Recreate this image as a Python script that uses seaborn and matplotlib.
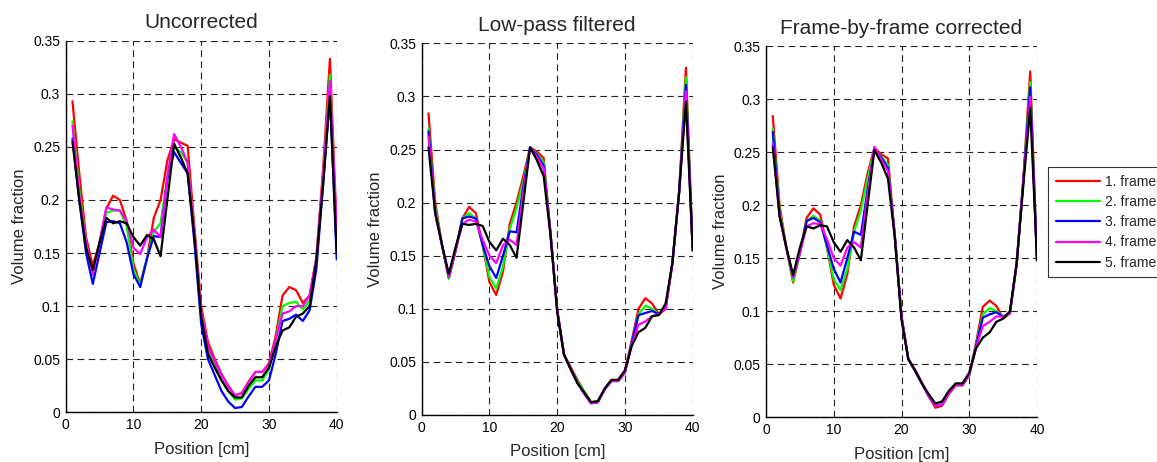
import numpy as np
import pandas as pd
import matplotlib
matplotlib.use("Agg")
import matplotlib.pyplot as plt
from matplotlib.ticker import FuncFormatter
import seaborn as sns

position = list(range(1, 41))
frames = ["1. frame", "2. frame", "3. frame", "4. frame", "5. frame"]
colors = ["#ff0000", "#00ff00", "#0000ff", "#ff00ff", "#000000"]
titles = ["Uncorrected", "Low-pass filtered", "Frame-by-frame corrected"]

# Uncorrected
unc_f1 = [0.293, 0.225, 0.165, 0.138, 0.160, 0.192, 0.204, 0.200, 0.180, 0.140,
          0.121, 0.145, 0.183, 0.200, 0.237, 0.257, 0.254, 0.251, 0.174, 0.100,
          0.066, 0.050, 0.036, 0.025, 0.016, 0.018, 0.029, 0.038, 0.038, 0.046,
          0.072, 0.110, 0.118, 0.115, 0.103, 0.110, 0.146, 0.230, 0.333, 0.171]
unc_f2 = [0.274, 0.210, 0.160, 0.129, 0.160, 0.188, 0.190, 0.190, 0.175, 0.135,
          0.120, 0.145, 0.170, 0.178, 0.222, 0.250, 0.245, 0.235, 0.168, 0.095,
          0.060, 0.045, 0.030, 0.020, 0.012, 0.013, 0.022, 0.030, 0.030, 0.040,
          0.068, 0.100, 0.103, 0.104, 0.097, 0.105, 0.143, 0.222, 0.318, 0.160]
unc_f3 = [0.258, 0.200, 0.150, 0.121, 0.150, 0.179, 0.180, 0.178, 0.160, 0.130,
          0.118, 0.145, 0.166, 0.165, 0.220, 0.245, 0.235, 0.225, 0.160, 0.083,
          0.050, 0.035, 0.020, 0.010, 0.004, 0.005, 0.015, 0.024, 0.024, 0.030,
          0.055, 0.086, 0.088, 0.092, 0.086, 0.096, 0.135, 0.215, 0.300, 0.144]
unc_f4 = [0.270, 0.205, 0.160, 0.130, 0.160, 0.193, 0.191, 0.190, 0.180, 0.155,
          0.149, 0.165, 0.172, 0.165, 0.222, 0.262, 0.250, 0.235, 0.168, 0.095,
          0.062, 0.048, 0.035, 0.024, 0.016, 0.018, 0.028, 0.038, 0.038, 0.045,
          0.068, 0.093, 0.095, 0.100, 0.100, 0.110, 0.145, 0.225, 0.312, 0.171]
unc_f5 = [0.255, 0.200, 0.155, 0.134, 0.160, 0.183, 0.178, 0.180, 0.178, 0.165,
          0.157, 0.167, 0.163, 0.147, 0.200, 0.253, 0.240, 0.225, 0.165, 0.090,
          0.055, 0.042, 0.030, 0.020, 0.014, 0.014, 0.025, 0.033, 0.033, 0.042,
          0.062, 0.077, 0.080, 0.090, 0.093, 0.100, 0.143, 0.215, 0.298, 0.151]

# Low-pass filtered
lp_f1 = [0.284, 0.200, 0.160, 0.129, 0.155, 0.185, 0.196, 0.190, 0.160, 0.125,
         0.113, 0.135, 0.180, 0.200, 0.225, 0.252, 0.248, 0.242, 0.172, 0.099,
         0.057, 0.045, 0.033, 0.022, 0.012, 0.013, 0.024, 0.033, 0.033, 0.042,
         0.070, 0.100, 0.110, 0.105, 0.095, 0.100, 0.143, 0.210, 0.327, 0.155]
lp_f2 = [0.270, 0.195, 0.160, 0.128, 0.155, 0.185, 0.190, 0.185, 0.160, 0.130,
         0.119, 0.140, 0.175, 0.195, 0.220, 0.252, 0.246, 0.238, 0.172, 0.099,
         0.057, 0.043, 0.032, 0.022, 0.012, 0.013, 0.024, 0.032, 0.032, 0.040,
         0.068, 0.095, 0.103, 0.100, 0.095, 0.100, 0.143, 0.210, 0.318, 0.155]
lp_f3 = [0.267, 0.190, 0.160, 0.130, 0.155, 0.185, 0.187, 0.185, 0.160, 0.140,
         0.129, 0.150, 0.173, 0.172, 0.215, 0.252, 0.245, 0.235, 0.172, 0.099,
         0.057, 0.043, 0.030, 0.020, 0.011, 0.012, 0.024, 0.032, 0.032, 0.040,
         0.068, 0.094, 0.096, 0.098, 0.095, 0.100, 0.143, 0.210, 0.311, 0.155]
lp_f4 = [0.262, 0.190, 0.160, 0.130, 0.155, 0.180, 0.184, 0.182, 0.165, 0.150,
         0.143, 0.160, 0.165, 0.160, 0.210, 0.252, 0.243, 0.232, 0.172, 0.099,
         0.057, 0.043, 0.030, 0.020, 0.011, 0.012, 0.024, 0.032, 0.032, 0.040,
         0.066, 0.085, 0.088, 0.093, 0.095, 0.100, 0.143, 0.210, 0.305, 0.155]
lp_f5 = [0.252, 0.190, 0.160, 0.133, 0.158, 0.180, 0.179, 0.180, 0.178, 0.163,
         0.155, 0.166, 0.160, 0.148, 0.200, 0.252, 0.240, 0.225, 0.170, 0.097,
         0.057, 0.043, 0.030, 0.021, 0.012, 0.013, 0.025, 0.033, 0.033, 0.042,
         0.065, 0.078, 0.082, 0.093, 0.094, 0.105, 0.143, 0.210, 0.295, 0.155]

# Frame-by-frame corrected
fb_f1 = [0.284, 0.200, 0.160, 0.127, 0.155, 0.188, 0.197, 0.191, 0.160, 0.125,
         0.112, 0.135, 0.180, 0.200, 0.230, 0.254, 0.248, 0.244, 0.172, 0.095,
         0.055, 0.045, 0.033, 0.020, 0.009, 0.011, 0.022, 0.030, 0.030, 0.040,
         0.070, 0.104, 0.110, 0.105, 0.093, 0.098, 0.145, 0.226, 0.326, 0.148]
fb_f2 = [0.272, 0.195, 0.160, 0.128, 0.155, 0.185, 0.190, 0.185, 0.160, 0.130,
         0.120, 0.140, 0.175, 0.195, 0.225, 0.253, 0.246, 0.238, 0.172, 0.095,
         0.055, 0.044, 0.032, 0.020, 0.011, 0.012, 0.023, 0.031, 0.031, 0.040,
         0.068, 0.097, 0.103, 0.100, 0.095, 0.098, 0.145, 0.225, 0.316, 0.148]
fb_f3 = [0.269, 0.190, 0.160, 0.132, 0.155, 0.185, 0.188, 0.184, 0.162, 0.140,
         0.127, 0.150, 0.175, 0.172, 0.215, 0.253, 0.245, 0.235, 0.172, 0.095,
         0.055, 0.044, 0.032, 0.020, 0.011, 0.012, 0.023, 0.031, 0.031, 0.040,
         0.067, 0.094, 0.097, 0.099, 0.095, 0.098, 0.145, 0.225, 0.311, 0.148]
fb_f4 = [0.258, 0.190, 0.160, 0.132, 0.155, 0.180, 0.183, 0.182, 0.168, 0.150,
         0.143, 0.160, 0.165, 0.160, 0.210, 0.255, 0.243, 0.232, 0.172, 0.095,
         0.055, 0.044, 0.032, 0.020, 0.011, 0.012, 0.023, 0.031, 0.031, 0.040,
         0.066, 0.086, 0.090, 0.095, 0.095, 0.098, 0.145, 0.225, 0.302, 0.148]
fb_f5 = [0.255, 0.190, 0.160, 0.134, 0.160, 0.180, 0.178, 0.181, 0.180, 0.165,
         0.156, 0.167, 0.160, 0.148, 0.200, 0.252, 0.240, 0.225, 0.170, 0.092,
         0.055, 0.044, 0.032, 0.022, 0.013, 0.015, 0.025, 0.032, 0.032, 0.042,
         0.065, 0.075, 0.080, 0.090, 0.093, 0.100, 0.145, 0.220, 0.292, 0.148]

panels = [
    [unc_f1, unc_f2, unc_f3, unc_f4, unc_f5],
    [lp_f1, lp_f2, lp_f3, lp_f4, lp_f5],
    [fb_f1, fb_f2, fb_f3, fb_f4, fb_f5],
]

sns.set_style("white")
plt.rcParams["font.family"] = ["Liberation Sans", "DejaVu Sans"]

W, H = 1157, 462
fig = plt.figure(figsize=(W / 100, H / 100), dpi=100)

# axes boxes in pixels: left, top, right, bottom
boxes = [(65.7, 40.7, 336.7, 412.3), (421.7, 43.3, 692.7, 415.0), (766.0, 46.0, 1037.0, 417.3)]

fmt = FuncFormatter(lambda v, p: "%g" % round(v, 4))

for i, (title, series) in enumerate(zip(titles, panels)):
    l, t, r, b = boxes[i]
    ax = fig.add_axes([l / W, 1 - b / H, (r - l) / W, (b - t) / H])
    rows = []
    for name, vals in zip(frames, series):
        for x, v in zip(position, vals):
            rows.append({"Position": x, "Value": v, "Frame": name})
    df = pd.DataFrame(rows)
    sns.lineplot(data=df, x="Position", y="Value", hue="Frame", hue_order=frames,
                 palette=colors, linewidth=1.6, ax=ax, legend=(i == 2))
    ax.set_xlim(0, 40)
    ax.set_ylim(0, 0.35)
    ax.set_xticks([0, 10, 20, 30, 40])
    ax.set_yticks(np.arange(0, 0.351, 0.05))
    ax.yaxis.set_major_formatter(fmt)
    ax.grid(True, color="#222222", linestyle=(0, (6, 4)), linewidth=0.8)
    ax.set_axisbelow(True)
    for s in ["top", "right"]:
        ax.spines[s].set_visible(False)
    for s in ["left", "bottom"]:
        ax.spines[s].set_color("black")
        ax.spines[s].set_linewidth(1.0)
    ax.tick_params(direction="in", length=3, labelsize=10, colors="black", pad=4)
    ax.set_title(title, fontsize=15, pad=9)
    ax.set_xlabel("Position [cm]", fontsize=12, labelpad=7)
    ax.set_ylabel("Volume fraction", fontsize=12, labelpad=4)
    if i == 2:
        ax.get_legend().remove()
        handles, labels = ax.get_legend_handles_labels()
        leg = fig.legend(handles, labels, loc="upper left",
                         bbox_to_anchor=(1048 / W, 1 - 167 / H),
                         frameon=True, fancybox=False, edgecolor="black",
                         fontsize=10, handlelength=3.2, handletextpad=0.38,
                         labelspacing=0.45, borderpad=0.55, borderaxespad=0)
        leg.get_frame().set_linewidth(0.8)

fig.savefig("out.png", dpi=100)
